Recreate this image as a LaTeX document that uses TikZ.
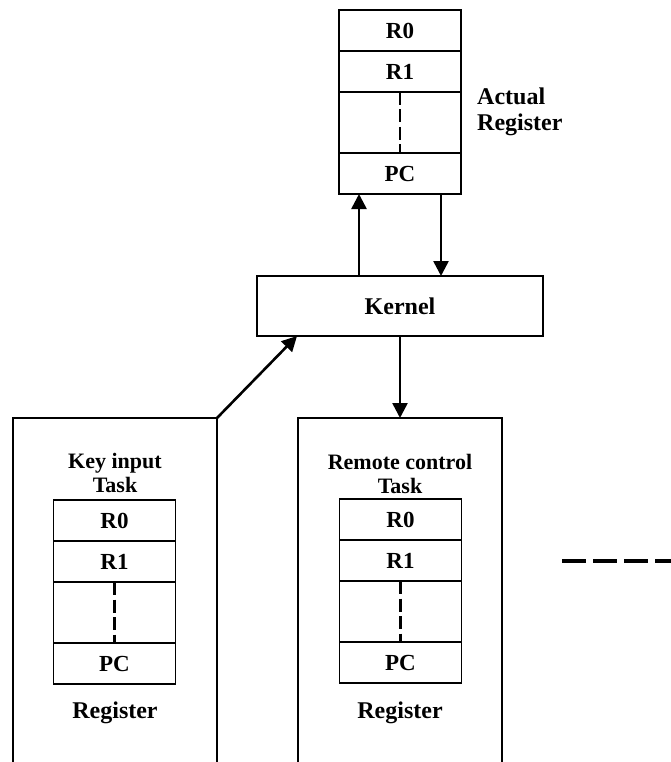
\documentclass[tikz,border=0pt]{standalone}
\usepackage{fontspec}
\setmainfont{Liberation Serif}
\usetikzlibrary{arrows.meta,calc}
\newcommand\regstack[3]{%
  \node[cell, minimum height=41pt, anchor=north] (#1r0) at (#2,#3) {R0};
  \node[cell, minimum height=41pt, anchor=north] (#1r1) at (#1r0.south) {R1};
  \node[cell, minimum height=61pt, anchor=north] (#1gap) at (#1r1.south) {};
  \node[cell, minimum height=41pt, anchor=north] (#1pc) at (#1gap.south) {PC};
  \draw[vdash] (#1gap.north) -- (#1gap.south);
}
\begin{document}
\begin{tikzpicture}[x=1pt,y=-1pt,
  cell/.style={draw, line width=1.4pt, minimum width=122pt, inner sep=0pt, outer sep=0pt,
     font=\fontsize{23}{26}\selectfont\bfseries},
  vdash/.style={line width=2.3pt, dash pattern=on 13pt off 4.5pt},
  boxline/.style={line width=1.4pt},
  arr/.style={line width=2.6pt, -{Triangle[length=15pt,width=15pt]}},
  lbl/.style={font=\fontsize{24}{26}\selectfont\bfseries, inner sep=0pt},
  ttl/.style={font=\fontsize{22}{24}\selectfont\bfseries, inner sep=0pt, align=center}]
\useasboundingbox (0,0) rectangle (670,762);
% actual register
\regstack{a}{400}{10}
\node[lbl, anchor=west, align=left] (actlbl) at (477,112) {Actual\\Register};
% kernel
\node[draw, boxline, minimum width=286pt, minimum height=60pt, inner sep=0pt, outer sep=0pt,
   font=\fontsize{24}{26}\selectfont\bfseries] (kernel) at (400,306) {Kernel};
\draw[arr] ([xshift=-41pt]kernel.north) -- ([xshift=-41pt]apc.south);
\draw[arr] ([xshift=41pt]apc.south) -- ([xshift=41pt]kernel.north);
% key input task
\coordinate (keytr) at (217,418);
\coordinate (keytl) at (13,418);
\draw[boxline] (keytl |- 0,763) -- (keytl) -- (keytr) -- (keytr |- 0,763);
\node[ttl] (keyttl) at (115,473) {Key input\\Task};
\regstack{k}{114.5}{500}
\node[lbl] (kreg) at (115,713) {Register};
\draw[arr] (keytr) -- ($(kernel.south west)+(40,0)$);
% remote control task
\coordinate (remtl) at (298,418);
\coordinate (remtr) at (502,418);
\coordinate (remtop) at (400,418);
\draw[boxline] (remtl |- 0,763) -- (remtl) -- (remtr) -- (remtr |- 0,763);
\node[ttl] (remttl) at (400,474) {Remote control\\Task};
\regstack{r}{400.5}{499}
\node[lbl] (rreg) at (400,713) {Register};
\draw[arr] (kernel.south) -- (remtop);
% continuation
\coordinate (contA) at (562,561);
\coordinate (contB) at (672,561);
\draw[line width=3.6pt, dash pattern=on 23.5pt off 7.5pt] (contA) -- (contB);
\end{tikzpicture}
\end{document}
